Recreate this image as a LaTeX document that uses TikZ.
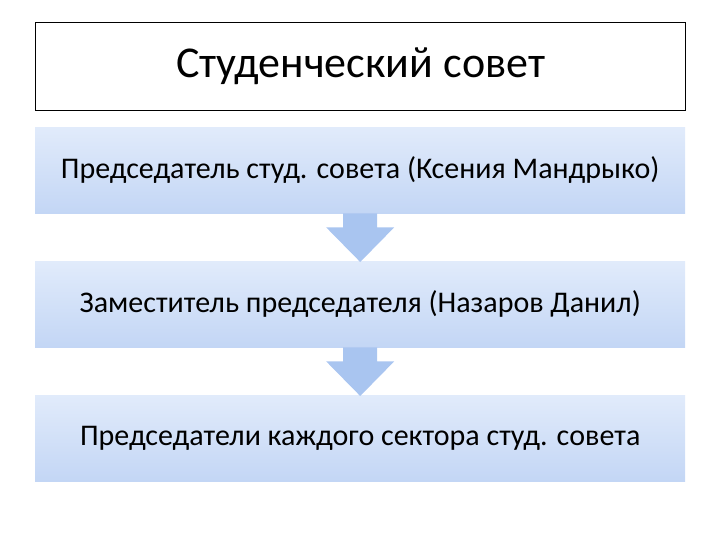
\documentclass[tikz,border=0pt]{standalone}
\usepackage{fontspec}
\setmainfont{Carlito}
\usetikzlibrary{calc}
\definecolor{gtop}{HTML}{E1EBFB}
\definecolor{gbot}{HTML}{C3D6F5}
\definecolor{arr}{HTML}{A9C5F0}
\begin{document}
\begin{tikzpicture}[x=1pt,y=-1pt,
  lvl/.style={minimum width=650pt,minimum height=86pt,top color=gtop,bottom color=gbot,draw=none,anchor=north west,inner sep=0pt,font=\fontsize{30}{34}\selectfont},
  downarr/.style={fill=arr,draw=none}]
\useasboundingbox (0,0) rectangle (720,540);
\node[draw=black,line width=1pt,minimum width=650pt,minimum height=88pt,anchor=north west,inner sep=0pt,font=\fontsize{44}{50}\selectfont] (t) at (35,22) {Студенческий совет};
\node[lvl] (a) at (35,127) {Председатель студ. совета (Ксения Мандрыко)};
\node[lvl] (b) at (35,261) {Заместитель председателя (Назаров Данил)};
\node[lvl] (c) at (35,395) {Председатели каждого сектора студ. совета};
\foreach \u/\v in {a/b,b/c}{
  \fill[arr] ($(\u.south)+(-17,0)$) -- ($(\u.south)+(17,0)$) -- ($(\u.south)+(17,14)$) -- ($(\u.south)+(34,14)$) -- ($(\v.north)+(0,1)$) -- ($(\u.south)+(-34,14)$) -- ($(\u.south)+(-17,14)$) -- cycle;
}
\end{tikzpicture}
\end{document}
